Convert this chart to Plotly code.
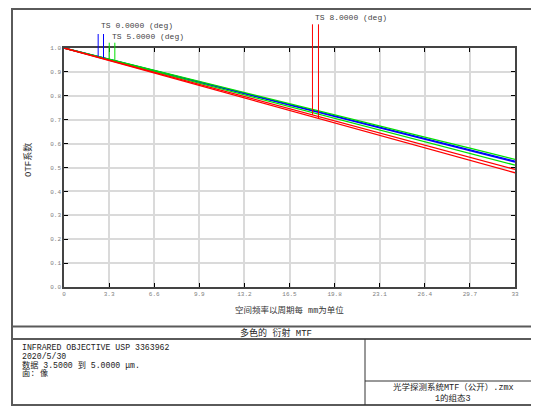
import numpy as np
import plotly.graph_objects as go

# ---------------- data ----------------
freq = [0, 3.3, 6.6, 9.9, 13.2, 16.5, 19.8, 23.1, 26.4, 29.7, 33]
tick_labels_x = ["0", "3.3", "6.6", "9.9", "13.2", "16.5", "19.8", "23.1", "26.4", "29.7", "33"]
tick_vals_y = [0.0, 0.1, 0.2, 0.3, 0.4, 0.5, 0.6, 0.7, 0.8, 0.9, 1.0]
tick_labels_y = ["0.0", "0.1", "0.2", "0.3", "0.4", "0.5", "0.6", "0.7", "0.8", "0.9", "1.0"]

blue_t = [1.000, 0.953, 0.905, 0.858, 0.811, 0.764, 0.716, 0.669, 0.622, 0.574, 0.527]
blue_s = [1.000, 0.952, 0.905, 0.857, 0.809, 0.762, 0.714, 0.666, 0.618, 0.571, 0.523]
green_t = [1.000, 0.953, 0.907, 0.860, 0.814, 0.767, 0.720, 0.674, 0.627, 0.581, 0.534]
green_s = [1.000, 0.951, 0.902, 0.853, 0.804, 0.755, 0.706, 0.657, 0.608, 0.559, 0.510]
red_t = [1.000, 0.949, 0.898, 0.848, 0.797, 0.746, 0.695, 0.644, 0.594, 0.543, 0.492]
red_s = [1.000, 0.948, 0.896, 0.843, 0.791, 0.739, 0.687, 0.635, 0.582, 0.530, 0.478]

field_labels = ["TS 0.0000 (deg)", "TS 5.0000 (deg)", "TS 8.0000 (deg)"]
marker_freq_t = [2.50, 3.31, 18.18]
marker_freq_s = [2.89, 3.72, 18.62]

title_text = "多色的 衍射 MTF"
info_lines = ["INFRARED OBJECTIVE USP 3363962", "2020/5/30", "数据 3.5000 到 5.0000 μm.", "面: 像"]
file_lines = ["光学探测系统MTF（公开）.zmx", "1的组态3"]
x_title = "空间频率以周期每 mm为单位"
y_title = "OTF系数"

# ---------------- layout geometry ----------------
OFF = 8  # page body margin in the browser
W, H = 539 - OFF, 406 - OFF
L, R, T, B = 64, 515, 48, 287  # plot area, in window pixels


def px(xp):
    return (xp - L) / (R - L)


def py(yp):
    return (B - yp) / (B - T)


FONT = "Liberation Mono, Noto Sans CJK SC, monospace"
BLUE, GREEN, RED = "#0000ff", "#00e000", "#ff0000"

series = [
    (blue_t, BLUE), (blue_s, BLUE),
    (green_t, GREEN), (green_s, GREEN),
    (red_t, RED), (red_s, RED),
]

fig = go.Figure()
for vals, col in series:
    fig.add_trace(go.Scatter(x=freq, y=vals, mode="lines",
                             line=dict(color=col, width=1.3), showlegend=False,
                             hoverinfo="skip"))

shapes = []
annotations = []

# marker lines and field labels
groups = [((blue_t, blue_s), BLUE, 34, 25.7), ((green_t, green_s), GREEN, 42.7, 36.0), ((red_t, red_s), RED, 24.3, 17.7)]
for i, ((vt, vs), col, top_px, lab_px) in enumerate(groups):
    for f, vals in ((marker_freq_t[i], vt), (marker_freq_s[i], vs)):
        yv = float(np.interp(f, freq, vals))
        shapes.append(dict(type="line", xref="x", yref="y", x0=f, x1=f, y0=yv, y1=1.0,
                           line=dict(color=col, width=1)))
        shapes.append(dict(type="line", xref="x", yref="paper", x0=f, x1=f, y0=1.0, y1=py(top_px),
                           line=dict(color=col, width=1)))
    annotations.append(dict(text=field_labels[i], xref="x", yref="paper",
                            x=marker_freq_t[i], y=py(lab_px), xanchor="left", yanchor="middle",
                            xshift=1, showarrow=False,
                            font=dict(family=FONT, size=8, color="#444444")))

# outer frame and info boxes
frame_col = "#5a5a5a"
shapes += [
    dict(type="rect", xref="paper", yref="paper", x0=px(12), x1=px(541), y0=py(405), y1=py(9),
         line=dict(color=frame_col, width=2)),
    dict(type="line", xref="paper", yref="paper", x0=px(12), x1=px(541), y0=py(326.5), y1=py(326.5),
         line=dict(color=frame_col, width=2)),
    dict(type="line", xref="paper", yref="paper", x0=px(12), x1=px(541), y0=py(339), y1=py(339),
         line=dict(color=frame_col, width=2)),
    dict(type="line", xref="paper", yref="paper", x0=px(365), x1=px(365), y0=py(339), y1=py(405),
         line=dict(color="#333333", width=1)),
    dict(type="line", xref="paper", yref="paper", x0=px(365), x1=px(541), y0=py(381), y1=py(381),
         line=dict(color="#333333", width=1)),
]

annotations.append(dict(text=title_text, xref="paper", yref="paper", x=px(276), y=py(332.5),
                        xanchor="center", yanchor="middle", showarrow=False,
                        font=dict(family=FONT, size=9, color="#222222")))
for k, line in enumerate(info_lines):
    annotations.append(dict(text=line, xref="paper", yref="paper", x=px(20), y=py(347.3 + 8.7 * k),
                            xanchor="left", yanchor="middle", showarrow=False,
                            font=dict(family=FONT, size=8.2, color="#222222")))
for k, line in enumerate(file_lines):
    annotations.append(dict(text=line, xref="paper", yref="paper", x=px(453), y=py(387.5 + 11 * k),
                            xanchor="center", yanchor="middle", showarrow=False,
                            font=dict(family=FONT, size=8.5, color="#222222")))
annotations.append(dict(text=x_title, xref="paper", yref="paper", x=0.5, y=py(310),
                        xanchor="center", yanchor="middle", showarrow=False,
                        font=dict(family=FONT, size=8.5, color="#333333")))
annotations.append(dict(text=y_title, xref="paper", yref="paper", x=px(28), y=py(160),
                        xanchor="center", yanchor="middle", showarrow=False, textangle=-90,
                        font=dict(family=FONT, size=9, color="#333333")))

axis_common = dict(showgrid=True, gridcolor="#dadada", gridwidth=1.5, zeroline=False,
                   showline=True, linecolor="#444444", linewidth=1.5, mirror="ticks",
                   ticks="inside", ticklen=4, tickwidth=1.2, tickcolor="#000000",
                   tickfont=dict(family=FONT, size=6, color="#808080"))

fig.update_layout(
    width=W, height=H,
    margin=dict(l=L - OFF, r=539 - R, t=T - OFF, b=406 - B, pad=0),
    paper_bgcolor="white", plot_bgcolor="white",
    xaxis=dict(range=[0, 33], tickmode="array", tickvals=freq, ticktext=tick_labels_x, **axis_common),
    yaxis=dict(range=[0, 1], tickmode="array", tickvals=tick_vals_y, ticktext=tick_labels_y, **axis_common),
    shapes=shapes, annotations=annotations,
)

fig.write_html("out.html")
